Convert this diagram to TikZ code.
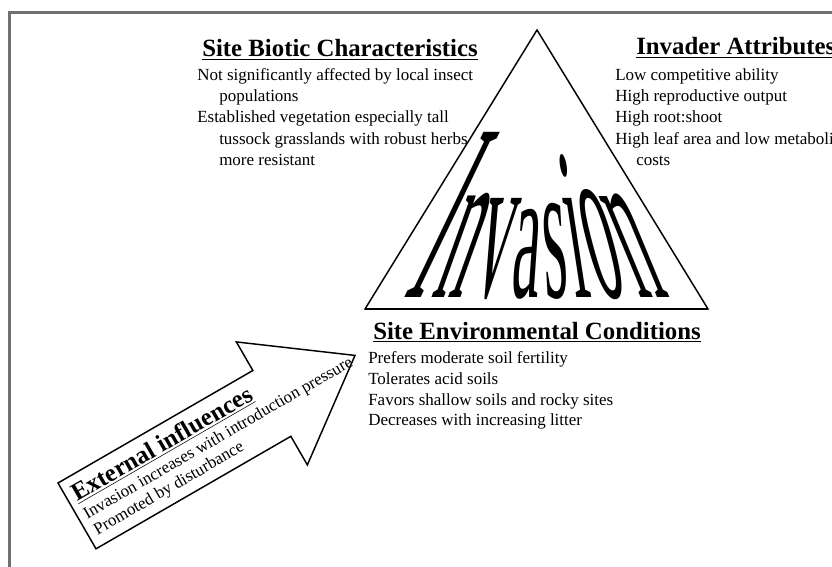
\documentclass[tikz,border=0pt]{standalone}
\usepackage{fontspec}
\setmainfont{Liberation Serif}
\begin{document}
\begin{tikzpicture}[x=0.75pt,y=-0.75pt,
  ttl/.style={inner sep=0pt, anchor=base west, font=\bfseries\fontsize{18.6}{22}\selectfont},
  txt/.style={inner sep=0pt, anchor=base west, font=\fontsize{12.75}{15}\selectfont},
  wordart/.style={inner sep=0pt, anchor=base, font=\fontsize{20}{24}\selectfont, xscale=2.35},
  outline/.style={draw=black, line width=1.1pt, line join=miter}]
\useasboundingbox (0,0) rectangle (832,567);
\clip (0,0) rectangle (832,567);
\fill[white] (0,0) rectangle (832,567);
% frame
\draw[draw={rgb,255:red,112;green,112;blue,112}, line width=1.7pt] (9.5,12.5) rectangle (850,590);

% triangle
\coordinate (apex) at (537,30);
\coordinate (bl) at (365,309);
\coordinate (br) at (708,309);
\draw[outline] (apex) -- (br) -- (bl) -- cycle;
\draw[line width=1.5pt] (bl) -- (br);

% word art
\node[xslant=0.479,  wordart, yscale=9.46] (L1) at (413.3,297) {I};
\node[xslant=0.356,  wordart, yscale=8.3]  (L2) at (446.6,297) {n};
\node[xslant=0.208,  wordart, yscale=8.1]  (L3) at (486.6,297) {v};
\node[xslant=0.069,  wordart, yscale=7.05] (L4) at (524.4,297) {a};
\node[xslant=-0.054, wordart, yscale=7.5]  (L5) at (557.7,297) {s};
\node[xslant=-0.152, wordart, yscale=8.1]  (L6) at (584.3,297) {i};
\node[xslant=-0.267, wordart, yscale=8.6]  (L7) at (615.4,297) {o};
\node[xslant=-0.415, wordart, yscale=8.25] (L8) at (655.4,297) {n};

% Site Biotic Characteristics
\node[ttl] (bioT) at (202,57) {\underline{Site Biotic Characteristics}};
\node[txt] (bio1) at (197,80.7) {Not significantly affected by local insect};
\node[txt] (bio2) at (219,101.8) {populations};
\node[txt] (bio3) at (197,122.9) {Established vegetation especially tall};
\node[txt] (bio4) at (219,144) {tussock grasslands with robust herbs};
\node[txt] (bio5) at (219,165.1) {more resistant};

% Invader Attributes
\node[ttl] (invT) at (636,55) {\underline{Invader Attributes}};
\node[txt] (inv1) at (615,80.7) {Low competitive ability};
\node[txt] (inv2) at (615,101.8) {High reproductive output};
\node[txt] (inv3) at (615,122.9) {High root:shoot};
\node[txt] (inv4) at (615,144) {High leaf area and low metabolic};
\node[txt] (inv5) at (636,165.1) {costs};

% Site Environmental Conditions
\node[ttl] (envT) at (373,339) {\underline{Site Environmental Conditions}};
\node[txt] (env1) at (368,363.3) {Prefers moderate soil fertility};
\node[txt] (env2) at (368,384.1) {Tolerates acid soils};
\node[txt] (env3) at (368,405) {Favors shallow soils and rocky sites};
\node[txt] (env4) at (368,425.8) {Decreases with increasing litter};

% External influences arrow
\begin{scope}[shift={(58,483)}, rotate=30]
  \draw[outline] (0,0) -- (225,0) -- (225,-33) -- (321,38) -- (225,109) -- (225,76) -- (0,76) -- cycle;
  \node[ttl, rotate=30] (extT) at (7,26) {\underline{External influences}};
  \node[txt, rotate=30] (ext1) at (7,46) {Invasion increases with introduction pressure};
  \node[txt, rotate=30] (ext2) at (8,65) {Promoted by disturbance};
\end{scope}
\end{tikzpicture}
\end{document}
